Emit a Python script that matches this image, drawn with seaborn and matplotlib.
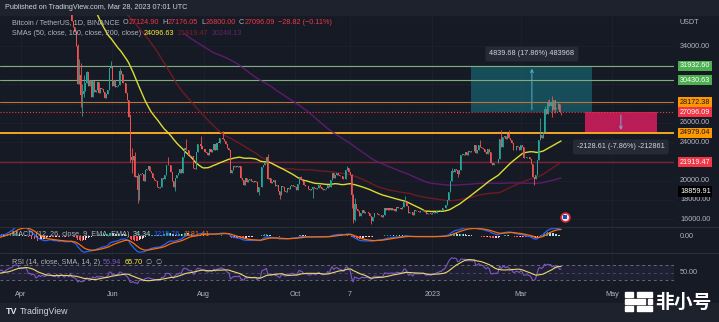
import numpy as np
import pandas as pd
import matplotlib
matplotlib.use("Agg")
import matplotlib.pyplot as plt
import seaborn as sns
from matplotlib.patches import Rectangle
from matplotlib.lines import Line2D

# ---------------- daily closes, BTC/USDT (BINANCE, 1D) ----------------
close_2022_01 = [47700, 47300, 46450, 45830, 43450, 43080, 41560, 41730, 41860, 41820, 42740, 43920, 42590, 43100, 43180, 43090,
                 42200, 42370, 41660, 40680, 36450, 35070, 36280, 36650, 36950, 36810, 37160, 37710, 38170, 37920, 38480]
close_2022_02 = [38740, 36900, 37320, 41570, 41380, 42410, 43840, 44040, 44370, 43510, 42380, 42210, 42050, 42540, 44540, 43870,
                 40520, 40000, 40080, 38370, 37020, 38230, 37250, 38330, 39220, 39110, 37700, 43160]
close_2022_03 = [44420, 43920, 42450, 39140, 39400, 38420, 38060, 38740, 41940, 39440, 38730, 38810, 37790, 39670, 39280, 41110,
                 40920, 41760, 42200, 41260, 41000, 42360, 42890, 43960, 44350, 44500, 46820, 47130, 47430, 47070, 45510]
close_2022_04 = [46280, 45820, 46400, 46580, 45500, 43170, 43440, 42250, 42750, 42160, 39530, 40080, 41150, 39940, 40550, 40380,
                 39680, 40800, 41490, 41360, 40480, 39710, 39470, 39450, 40430, 38110, 39240, 39740, 38600, 37630]
close_2022_05 = [38470, 38520, 37720, 39690, 36550, 36010, 35470, 34040, 30080, 31010, 28940, 29030, 29290, 30100, 31300, 29860,
                 30420, 28720, 30310, 29200, 29430, 30280, 29100, 29650, 29540, 29200, 28630, 29020, 29450, 31730, 31800]
close_2022_06 = [29800, 30450, 29700, 29860, 29910, 31370, 31130, 30200, 30110, 29090, 28420, 26580, 22490, 22140, 22580, 20380,
                 20450, 19010, 20550, 20720, 20720, 19970, 21100, 21230, 21500, 21030, 20740, 20280, 20100, 19940]
close_2022_07 = [19290, 19250, 19300, 20230, 20180, 20550, 21640, 21600, 21590, 20860, 19960, 19330, 20220, 20580, 20830, 21190,
                 20790, 22430, 23400, 23220, 23150, 22680, 22450, 22580, 21310, 21250, 22950, 23850, 23780, 23640, 23300]
close_2022_08 = [23270, 22990, 22820, 22620, 23310, 22960, 23180, 23810, 23160, 23950, 23940, 24400, 24440, 24300, 24100, 23850,
                 23340, 23190, 20830, 21140, 21520, 21400, 21530, 21370, 21560, 20240, 20040, 19550, 20290, 19800, 20050]
close_2022_09 = [20130, 19950, 19830, 19990, 19800, 18790, 19290, 19320, 21360, 21650, 21830, 22400, 20170, 20230, 19700, 19800,
                 20110, 19420, 19540, 18880, 18490, 19400, 19290, 18920, 18800, 19220, 19080, 19410, 19590, 19420]
close_2022_10 = [19310, 19060, 19620, 20340, 20160, 19960, 19530, 19420, 19450, 19130, 19060, 19160, 19380, 19180, 19070, 19260,
                 19550, 19330, 19120, 19040, 19170, 19200, 19570, 19330, 20090, 20770, 20290, 20600, 20820, 20630, 20490]
close_2022_11 = [20480, 20150, 20210, 21150, 21300, 20910, 20590, 18540, 15920, 17600, 17070, 16810, 16330, 16620, 16900, 16660,
                 16690, 16700, 16630, 16290, 15790, 16230, 16600, 16600, 16520, 16460, 16440, 16220, 16440, 17170]
close_2022_12 = [16980, 17100, 16890, 17110, 16970, 17090, 16840, 17220, 17130, 17130, 17090, 17210, 17780, 17810, 17360, 16630,
                 16780, 16740, 16440, 16900, 16820, 16830, 16780, 16840, 16830, 16920, 16700, 16550, 16630, 16600, 16540]
close_2023_01 = [16620, 16680, 16670, 16850, 16830, 16950, 16940, 17130, 17180, 17440, 17940, 18850, 19930, 20950, 20870, 21190,
                 21130, 20680, 21080, 22670, 22780, 22710, 22920, 22630, 23060, 23010, 23080, 23030, 23740, 22830, 23130]
close_2023_02 = [23730, 23490, 23430, 23330, 22930, 22760, 23240, 22960, 21800, 21630, 21860, 21780, 21780, 22200, 24330, 23520,
                 24570, 24630, 24280, 24840, 24450, 24180, 23940, 23180, 23160, 23550, 23490, 23150]
close_2023_03 = [23650, 23470, 22360, 22350, 22430, 22410, 22200, 21700, 20360, 20190, 20630, 22160, 24200, 24750, 24380, 25060,
                 27450, 26970, 28040, 27770, 28180, 27300, 28350, 27480, 27490, 27990, 27124.90, 27096.09]

months = [("2022-01-01", close_2022_01), ("2022-02-01", close_2022_02), ("2022-03-01", close_2022_03),
          ("2022-04-01", close_2022_04), ("2022-05-01", close_2022_05), ("2022-06-01", close_2022_06),
          ("2022-07-01", close_2022_07), ("2022-08-01", close_2022_08), ("2022-09-01", close_2022_09),
          ("2022-10-01", close_2022_10), ("2022-11-01", close_2022_11), ("2022-12-01", close_2022_12),
          ("2023-01-01", close_2023_01), ("2023-02-01", close_2023_02), ("2023-03-01", close_2023_03)]

# intraday extremes beyond the candle body
wick_high = {"2022-05-09": 34250, "2022-05-10": 32650, "2022-05-11": 32200, "2022-05-12": 30030, "2022-05-13": 30950,
             "2022-05-15": 31400, "2022-05-31": 32400, "2022-06-06": 31750, "2022-06-13": 26900, "2022-06-14": 23360,
             "2022-06-16": 22980, "2022-06-18": 20800, "2022-07-08": 22500, "2022-07-20": 24280, "2022-07-30": 24650,
             "2022-08-14": 25200, "2022-08-19": 23200, "2022-09-13": 22800, "2022-10-05": 20480, "2022-11-05": 21480,
             "2022-11-08": 20700, "2022-11-09": 18600, "2022-11-10": 18150, "2022-12-14": 18390, "2023-01-14": 21260,
             "2023-02-02": 24260, "2023-02-16": 25250, "2023-02-21": 25250, "2023-03-14": 26500, "2023-03-17": 27750,
             "2023-03-19": 28390, "2023-03-20": 28470, "2023-03-22": 28800, "2023-03-24": 28400, "2023-03-26": 28200,
             "2023-03-28": 27176.05}
wick_low = {"2022-05-11": 27700, "2022-05-12": 26700, "2022-05-13": 28700, "2022-06-13": 21900, "2022-06-14": 20800,
            "2022-06-18": 17620, "2022-06-19": 17960, "2022-07-13": 18900, "2022-08-19": 20780, "2022-09-07": 18540,
            "2022-09-21": 18130, "2022-10-13": 18190, "2022-11-08": 17170, "2022-11-09": 15590, "2022-11-10": 15750,
            "2022-11-21": 15480, "2023-01-18": 20400, "2023-03-10": 19550, "2023-03-22": 26600, "2023-03-24": 27000,
            "2023-03-28": 26800.00}

# horizontal levels and their scale tags
levels = [31932.60, 30430.63, 28172.38, 27096.09, 24979.04, 21919.47]
level_colors = ["#7fae7a", "#7fae7a", "#b8763a", "#f23645", "#f5a623", "#7a2430"]
level_styles = ["-", "-", "-", ":", "-", "-"]
level_widths = [0.8, 0.8, 0.8, 0.8, 1.4, 1.0]
tag_values = [31932.60, 30430.63, 28172.38, 27096.09, 24979.04, 21919.47, 18859.91]
tag_bg = ["#4caf50", "#4caf50", "#ff9800", "#f23645", "#ff9800", "#f23645", "#000000"]
tag_fg = ["white", "white", "#131722", "white", "#131722", "white", "white"]
price_ticks = [16000, 18000, 20000, 24000, 26000, 34000]
grid_prices = [16000, 18000, 20000, 22000, 24000, 26000, 28000, 30000, 32000, 34000]

month_labels = ["Apr", "Jun", "Aug", "Oct", "7", "2023", "Mar", "May"]
month_dates = ["2022-04-01", "2022-06-01", "2022-08-01", "2022-10-01", "2022-11-07", "2023-01-01", "2023-03-01", "2023-05-01"]

# measuring tools: (start date, end date, anchor price, change)
rise_start, rise_end, rise_top, rise_delta = "2023-01-27", "2023-04-18", 31932.60, 4839.68
fall_start, fall_end, fall_bottom, fall_delta = "2023-04-13", "2023-05-31", 24979.04, 2128.61
rise_label = "4839.68 (17.86%) 483968"
fall_label = "-2128.61 (-7.86%) -212861"

# ---------------- assemble the frame ----------------
frames = []
for start, vals in months:
    frames.append(pd.DataFrame({"date": pd.date_range(start, periods=len(vals)), "close": vals}))
df = pd.concat(frames, ignore_index=True)
origin = pd.Timestamp("2022-04-01")
df["d"] = (df["date"] - origin).dt.days.astype(float)
df["open"] = df["close"].shift(1).fillna(df["close"].iloc[0])
keys = df["date"].dt.strftime("%Y-%m-%d")
df["high"] = np.maximum(df[["open", "close"]].max(axis=1), keys.map(wick_high).fillna(0))
df["low"] = np.minimum(df[["open", "close"]].min(axis=1), keys.map(wick_low).fillna(1e9))

c = df["close"]
df["sma50"] = c.rolling(50).mean()
df["sma100"] = c.rolling(100).mean()
df["sma200"] = c.rolling(200).mean()
ema12 = c.ewm(span=12, adjust=False).mean()
ema26 = c.ewm(span=26, adjust=False).mean()
df["macd"] = ema12 - ema26
df["signal"] = df["macd"].ewm(span=9, adjust=False).mean()
df["hist"] = df["macd"] - df["signal"]
delta = c.diff()
gain = delta.clip(lower=0).ewm(alpha=1 / 14, adjust=False).mean()
loss = (-delta.clip(upper=0)).ewm(alpha=1 / 14, adjust=False).mean()
df["rsi"] = 100 - 100 / (1 + gain / loss)
df["rsi_ma"] = df["rsi"].rolling(14).mean()

def dnum(s):
    return float((pd.Timestamp(s) - origin).days)

# ---------------- styling ----------------
W, H = 719, 322
BG = "#161a25"
BAR = "#1e222d"
TXT = "#b2b5be"
GRID = "#1e2230"
UP, DOWN = "#26a69a", "#ef5350"
FS = 5.2

sns.set_theme(style="dark", rc={"axes.facecolor": BG, "figure.facecolor": BG, "axes.edgecolor": BG,
                                "text.color": TXT, "xtick.color": TXT, "ytick.color": TXT})
plt.rcParams["font.family"] = ["Liberation Sans", "DejaVu Sans"]

fig = plt.figure(figsize=(W / 100, H / 100), dpi=100)
fig.patches.append(Rectangle((0, 1 - 15 / H), 1, 15 / H, transform=fig.transFigure, color=BAR, zorder=0))
fig.patches.append(Rectangle((0, 0), 1, 19 / H, transform=fig.transFigure, color=BAR, zorder=0))

def px_axes(x0, y0, x1, y1):
    a = fig.add_axes([x0 / W, 1 - y1 / H, (x1 - x0) / W, (y1 - y0) / H])
    a.set_facecolor(BG)
    a.patch.set_alpha(0)
    for s in a.spines.values():
        s.set_visible(False)
    a.set_xticks([])
    a.set_yticks([])
    return a

XL = (-14.04, 436.5)
PLOT_R = 674
vis = df[df["d"] >= XL[0] - 1]

# ---------------- price panel ----------------
ax = px_axes(0, 15, PLOT_R, 227)
ax.set_xlim(*XL)
ax.set_ylim(15168, 37226)
for p in grid_prices:
    ax.axhline(p, color=GRID, lw=0.6, zorder=0)
for md in month_dates:
    ax.axvline(dnum(md), color=GRID, lw=0.6, zorder=0)

# measuring boxes
r0, r1 = dnum(rise_start), dnum(rise_end)
ax.add_patch(Rectangle((r0, rise_top - rise_delta), r1 - r0, rise_delta, fc="#1a8a9a", alpha=0.45, ec="none", zorder=1))
rx = (r0 + r1) / 2
ax.annotate("", xy=(rx, rise_top), xytext=(rx, rise_top - rise_delta),
            arrowprops=dict(arrowstyle="->", color="#4fb3c9", lw=0.7, mutation_scale=5), zorder=2)
ax.text(rx, 33170, rise_label, ha="center", va="center", fontsize=FS, color="#d1d4dc", zorder=6,
        bbox=dict(boxstyle="round,pad=0.55,rounding_size=0.3", fc="#262a36", ec="none"))
f0, f1 = dnum(fall_start), dnum(fall_end)
ax.add_patch(Rectangle((f0, fall_bottom), f1 - f0, fall_delta, fc="#e91e63", alpha=0.78, ec="none", zorder=1))
fx = (f0 + f1) / 2
ax.annotate("", xy=(fx, fall_bottom), xytext=(fx, fall_bottom + fall_delta),
            arrowprops=dict(arrowstyle="->", color="#7fa9c9", lw=0.7, mutation_scale=5), zorder=2)
ax.text(fx, 23492, fall_label, ha="center", va="center", fontsize=FS, color="#d1d4dc", zorder=6,
        bbox=dict(boxstyle="round,pad=0.55,rounding_size=0.3", fc="#262a36", ec="none"))

# level lines
for lv, col, ls, lw in zip(levels, level_colors, level_styles, level_widths):
    ax.axhline(lv, color=col, ls=ls, lw=lw, zorder=2)

# moving averages
for col, color, alpha in [("sma200", "#6a1b7a", 0.85), ("sma100", "#7d1a22", 0.85), ("sma50", "#dcdc32", 1.0)]:
    s = vis.dropna(subset=[col])
    sns.lineplot(x=s["d"].values, y=s[col].values, ax=ax, color=color, lw=1.0, alpha=alpha, zorder=3, legend=False)

# candles
up = vis["close"] >= vis["open"]
for mask, color in [(up, UP), (~up, DOWN)]:
    v = vis[mask]
    ax.vlines(v["d"], v["low"], v["high"], color=color, lw=0.6, zorder=4)
    body = np.maximum((v["close"] - v["open"]).abs(), 25)
    ax.bar(v["d"], body, bottom=v[["open", "close"]].min(axis=1), width=0.7, color=color, lw=0, zorder=4)

# event marker
ax.scatter([363.6], [16208], s=40, facecolor="#e8eaf0", edgecolor="#d32f2f", lw=1.2, zorder=5)
ax.scatter([363.6], [16208], s=6, marker="s", facecolor="#1e4fb5", lw=0, zorder=6)

# price scale
ytr = ax.get_yaxis_transform()
for p in price_ticks:
    ax.text(680 / PLOT_R, p, f"{p:.2f}", transform=ytr, fontsize=FS, color=TXT, va="center", ha="left", clip_on=False)
for v, bgc, fgc in zip(tag_values, tag_bg, tag_fg):
    ax.text(680 / PLOT_R, v, f"{v:.2f}", transform=ytr, fontsize=FS, color=fgc, va="center", ha="left", clip_on=False,
            zorder=10, bbox=dict(boxstyle="square,pad=0.22", fc=bgc, ec="none"))
ax.set_zorder(2)

# ---------------- MACD panel ----------------
axm = px_axes(0, 227, PLOT_R, 253)
axm.set_xlim(*XL)
lo = min(vis["macd"].min(), vis["signal"].min()) * 1.05
axm.set_ylim(lo, -lo * 9 / 17)
for md in month_dates:
    axm.axvline(dnum(md), color=GRID, lw=0.6, zorder=0)
h = vis["hist"].values
hp = np.r_[h[0], h[:-1]]
hcol = np.where(h >= 0, np.where(h >= hp, "#26a69a", "#b2dfdb"), np.where(h <= hp, "#ff5252", "#ffcdd2"))
axm.bar(vis["d"], h, width=0.6, color=hcol, lw=0, zorder=1)
sns.lineplot(x=vis["d"].values, y=vis["macd"].values, ax=axm, color="#2962ff", lw=0.9, zorder=2, legend=False)
sns.lineplot(x=vis["d"].values, y=vis["signal"].values, ax=axm, color="#ff6d00", lw=0.9, zorder=2, legend=False)
axm.text(680 / PLOT_R, 0, "0.00", transform=axm.get_yaxis_transform(), fontsize=FS, color=TXT, va="center",
         ha="left", clip_on=False)

# ---------------- RSI panel ----------------
axr = px_axes(0, 253, PLOT_R, 286)
axr.set_xlim(*XL)
axr.set_ylim(14, 102)
for md in month_dates:
    axr.axvline(dnum(md), color=GRID, lw=0.6, zorder=0)
axr.axhspan(30, 70, color="#7e57c2", alpha=0.1, lw=0, zorder=0)
for lv, a in [(70, 0.8), (50, 0.45), (30, 0.8)]:
    axr.axhline(lv, color="#787b86", lw=0.7, ls=(0, (3, 3)), alpha=a, zorder=1)
sns.lineplot(x=vis["d"].values, y=vis["rsi"].values, ax=axr, color="#7e57c2", lw=0.8, zorder=2, legend=False)
sns.lineplot(x=vis["d"].values, y=vis["rsi_ma"].values, ax=axr, color="#e6dc6e", lw=0.8, zorder=3, legend=False)
axr.text(680 / PLOT_R, 50, "50.00", transform=axr.get_yaxis_transform(), fontsize=FS, color=TXT, va="center",
         ha="left", clip_on=False)

# panel separators
for yy in (227, 253):
    fig.add_artist(Line2D([0, 1], [1 - yy / H, 1 - yy / H], color="#2a2e39", lw=0.8, transform=fig.transFigure))

# ---------------- text ----------------
fig.text(5 / W, 1 - 7.5 / H, "Published on TradingView.com, Mar 28, 2023 07:01 UTC", fontsize=FS, color="#d1d4dc",
         va="center")

renderer = fig.canvas.get_renderer()

def chain(x_px, y_px, parts):
    x = x_px
    for s, col, gap in parts:
        x += gap
        t = fig.text(x / W, 1 - y_px / H, s, color=col, fontsize=FS, va="center", ha="left", zorder=20)
        x = t.get_window_extent(renderer).x1

RED = "#f23645"
chain(12, 23, [("Bitcoin / TetherUS, 1D, BINANCE", TXT, 0), ("O", TXT, 3), ("27124.90", RED, 0.4),
               ("H", TXT, 3), ("27176.05", RED, 0.4), ("L", TXT, 3), ("26800.00", RED, 0.4),
               ("C", TXT, 3), ("27096.09", RED, 0.4), ("\u221228.82 (\u22120.11%)", RED, 3)])
chain(12, 33.5, [("SMAs (50, close, 100, close, 200, close)", TXT, 0), ("24096.63", "#ffeb3b", 3),
                 ("21919.47", "#7a1f2a", 3), ("20248.13", "#5e2470", 3)])
chain(12, 235, [("MACD (12, 26, close, 9, EMA, EMA)", TXT, 0), ("34.34", "#b2dfdb", 3),
                ("1215.76", "#2962ff", 3), ("1181.41", "#ff6d00", 3)])
chain(12, 263, [("RSI (14, close, SMA, 14, 2)", TXT, 0), ("56.94", "#7e57c2", 3), ("65.70", "#ffeb3b", 3),
                ("\u2205", TXT, 3), ("\u2205", TXT, 3)])
fig.text(680 / W, 1 - 22 / H, "USDT", fontsize=FS, color=TXT, va="center")

for lab, md in zip(month_labels, month_dates):
    fig.text((21 + 1.496 * dnum(md)) / W, 1 - 295 / H, lab, fontsize=FS, color=TXT, ha="center", va="center")

# footer
fig.text(6 / W, 1 - 312 / H, "TV", fontsize=6.5, fontweight="bold", color="#e0e3eb", va="center")
fig.text(20 / W, 1 - 312 / H, "TradingView", fontsize=6.3, color="#d1d4dc", va="center")
for (x0, x1, y0, y1) in [(625, 633, 292, 296.5), (637, 652, 292, 296.5), (625, 645, 299, 303.5),
                         (648, 652, 299, 303.5), (625, 633, 306, 310.5), (637, 652, 306, 310.5)]:
    fig.patches.append(Rectangle((x0 / W, 1 - y1 / H), (x1 - x0) / W, (y1 - y0) / H, transform=fig.transFigure,
                                 color="white", zorder=5))
fig.text(655 / W, 1 - 302 / H, "非小号", fontsize=13.5, fontweight="bold", color="white", va="center",
         family=["Noto Sans CJK SC", "DejaVu Sans"])

fig.savefig("out.png", dpi=100, facecolor=BG)
